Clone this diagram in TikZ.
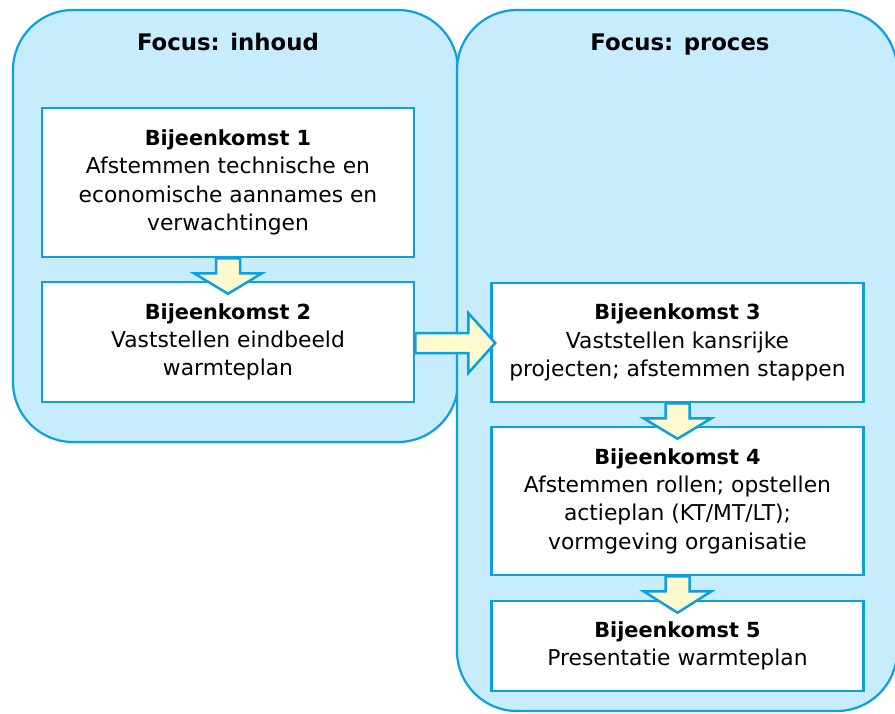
\documentclass[tikz,border=0pt]{standalone}
\usepackage{fontspec}
\setmainfont{DejaVu Sans}
\usetikzlibrary{calc}
\definecolor{panelfill}{RGB}{198,236,253}
\definecolor{edge}{RGB}{10,160,226}
\definecolor{arrowfill}{RGB}{255,250,205}
\newcommand{\hd}[1]{{\bfseries\fontsize{20.8}{28}\selectfont #1}}
\begin{document}
\begin{tikzpicture}[x=1pt,y=-1pt,
  panel/.style={draw=edge,fill=panelfill,line width=2.2pt,rounded corners=60pt},
  stepbox/.style={draw=edge,fill=white,line width=2.5pt,minimum width=372pt,align=center,
    font=\fontsize{21.8}{28.3}\selectfont,inner sep=0pt},
  flow/.style={draw=edge,fill=arrowfill,line width=2.5pt,line join=miter},
  paneltitle/.style={font=\bfseries\fontsize{22.8}{26}\selectfont,anchor=base}]
\useasboundingbox (0,0) rectangle (895,713);
\clip (0,0) rectangle (895,713);
% panels
\draw[panel] (13,10) rectangle (458,442);
\draw[panel] (457,10) rectangle (897,711);
\node[paneltitle] (t1) at (228,50) {Focus: inhoud};
\node[paneltitle] (t2) at (680,50) {Focus: proces};
% boxes
\node[stepbox,minimum height=149pt] (b1) at (228,182.5)
  {\hd{Bijeenkomst 1}\\Afstemmen technische en\\economische aannames en\\verwachtingen};
\node[stepbox,minimum height=120pt] (b2) at (228,342)
  {\hd{Bijeenkomst 2}\\Vaststellen eindbeeld\\warmteplan};
\node[stepbox,minimum height=119pt] (b3) at (677.5,342.5)
  {\hd{Bijeenkomst 3}\\Vaststellen kansrijke\\projecten; afstemmen stappen};
\node[stepbox,minimum height=148pt] (b4) at (677.5,501)
  {\hd{Bijeenkomst 4}\\Afstemmen rollen; opstellen\\actieplan (KT/MT/LT);\\vormgeving organisatie};
\node[stepbox,minimum height=90pt] (b5) at (677.5,646)
  {\hd{Bijeenkomst 5}\\Presentatie warmteplan};
% arrows
\foreach \u/\l in {b1/b2,b3/b4,b4/b5}{
  \draw[flow] ($(\u.south)+(-12,0)$) -- ($(\u.south)+(-12,15)$) -- ($(\u.south)+(-34,15)$)
    -- ($(\l.north)+(0,13)$) -- ($(\u.south)+(34,15)$) -- ($(\u.south)+(12,15)$)
    -- ($(\u.south)+(12,0)$) -- cycle;
}
\draw[flow] ($(b2.east)+(0,-9)$) -- ($(b2.east)+(53,-9)$) -- ($(b2.east)+(53,-29)$)
  -- ($(b3.west)+(5,0.5)$) -- ($(b2.east)+(53,31)$) -- ($(b2.east)+(53,11)$)
  -- ($(b2.east)+(0,11)$) -- cycle;
\end{tikzpicture}
\end{document}
